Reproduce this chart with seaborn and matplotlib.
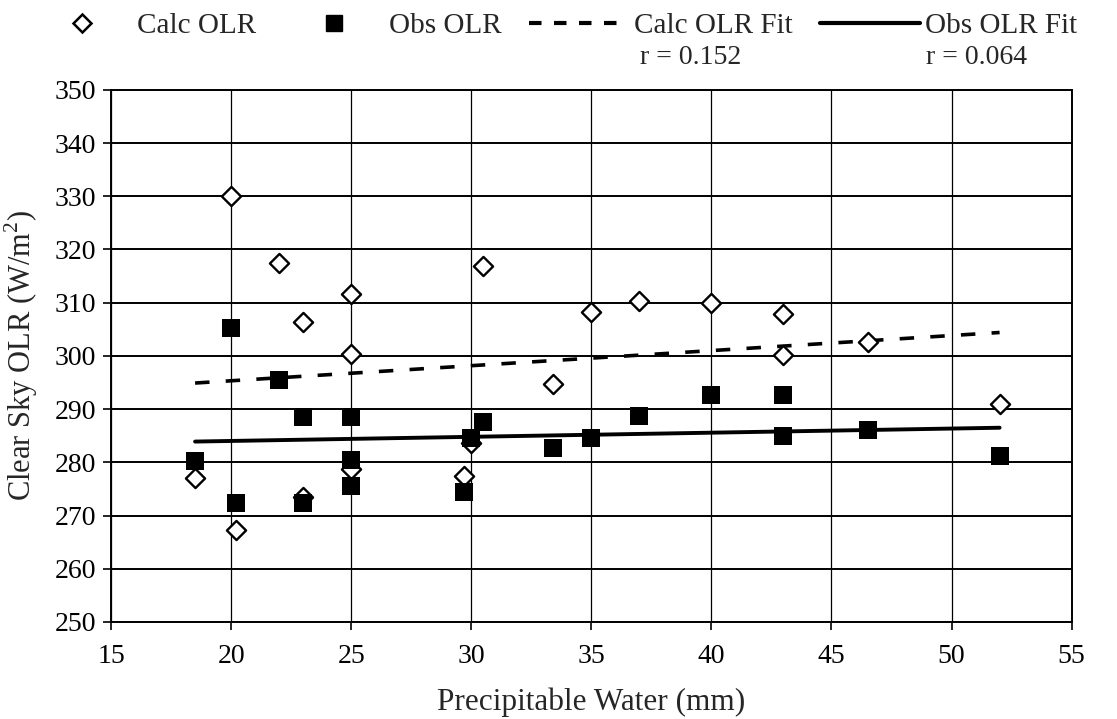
import numpy as np
import pandas as pd
import matplotlib
matplotlib.use("Agg")
import matplotlib.pyplot as plt
from matplotlib.lines import Line2D
import seaborn as sns

# ---- data ----
pw = [18.5, 20.0, 20.2, 22.0, 23.0, 23.0, 25.0, 25.0, 25.0, 29.7,
      30.0, 30.5, 33.4, 35.0, 37.0, 40.0, 43.0, 43.0, 46.5, 52.0]
calc_olr = [277.1, 330.0, 267.3, 317.4, 306.4, 273.5, 311.6, 300.4, 278.8, 277.5,
            283.6, 316.9, 294.7, 308.3, 310.3, 310.0, 307.8, 300.2, 302.7, 291.0]
obs_olr = [280.2, 305.2, 272.4, 295.5, 288.6, 272.4, 288.6, 280.5, 275.5, 274.4,
           284.5, 287.5, 282.6, 284.5, 288.7, 292.7, 292.7, 284.9, 286.0, 281.1]
fit_x = [18.5, 52.0]
calc_fit = [294.9, 304.4]
obs_fit = [283.9, 286.5]
r_labels = ["r = 0.152", "r = 0.064"]
series_labels = ["Calc OLR", "Obs OLR", "Calc OLR Fit", "Obs OLR Fit"]
x_ticks = [15, 20, 25, 30, 35, 40, 45, 50, 55]
y_ticks = [250, 260, 270, 280, 290, 300, 310, 320, 330, 340, 350]

sns.set_theme(style="white")
plt.rcParams['font.family'] = ['Liberation Serif', 'DejaVu Serif']
plt.rcParams['mathtext.fontset'] = 'custom'
plt.rcParams['mathtext.rm'] = 'Liberation Serif'

fig = plt.figure(figsize=(11.17, 7.19), dpi=100)
ax = fig.add_axes([0.0994, 0.135, 0.860, 0.740])

pts = pd.DataFrame({"pw": pw, "calc": calc_olr, "obs": obs_olr})
fits = pd.DataFrame({"x": fit_x, "calc": calc_fit, "obs": obs_fit})

sns.lineplot(data=fits, x="x", y="calc", ax=ax, color="black", lw=2.6,
             linestyle=(0, (4, 4.5)), zorder=3)
sns.lineplot(data=fits, x="x", y="obs", ax=ax, color="black", lw=2.8, zorder=3)
sns.scatterplot(data=pts, x="pw", y="calc", ax=ax, marker="D", s=95,
                facecolor="white", edgecolor="black", linewidth=1.7, zorder=4)
sns.scatterplot(data=pts, x="pw", y="obs", ax=ax, marker="s", s=160,
                color="black", edgecolor="black", linewidth=0, zorder=5)

ax.set_xlim(15, 55)
ax.set_ylim(250, 350)
ax.set_xticks(x_ticks)
ax.set_yticks(y_ticks)
ax.grid(True, axis="y", color="black", lw=1.4)
ax.grid(True, axis="x", color="black", lw=0.9)
ax.set_axisbelow(True)
for sp in ax.spines.values():
    sp.set_color("black")
    sp.set_linewidth(1.4)
ax.tick_params(axis="both", labelsize=20, colors="black", length=6, direction="out",
               left=True, bottom=True, width=1.2)
ax.tick_params(axis="x", pad=10)
ax.tick_params(axis="y", pad=5)
ax.set_xlabel("Precipitable Water (mm)", fontsize=22.5, labelpad=13)
ax.set_ylabel("Clear Sky OLR (W/m$^2$)", fontsize=22, labelpad=10)

# r labels above the plot
fig.text(691 / 1117, 1 - 58 / 719, r_labels[0], fontsize=20, ha="center", va="center")
fig.text(977 / 1117, 1 - 58 / 719, r_labels[1], fontsize=20, ha="center", va="center")

handles = [
    Line2D([], [], marker="D", ls="none", markerfacecolor="white",
           markeredgecolor="black", markeredgewidth=1.8, markersize=9),
    Line2D([], [], marker="s", ls="none", color="black", markersize=12),
    Line2D([], [], color="black", lw=3, linestyle=(0, (3, 3))),
    Line2D([], [], color="black", lw=3),
]
fig.legend(handles, series_labels, loc="center left",
           bbox_to_anchor=(32 / 1117, 1 - 26 / 719), ncol=4,
           frameon=False, fontsize=21, handlelength=3.42, handletextpad=0.17,
           columnspacing=0.96, borderpad=0, borderaxespad=0)

fig.savefig("out.png", dpi=100, facecolor="white")
